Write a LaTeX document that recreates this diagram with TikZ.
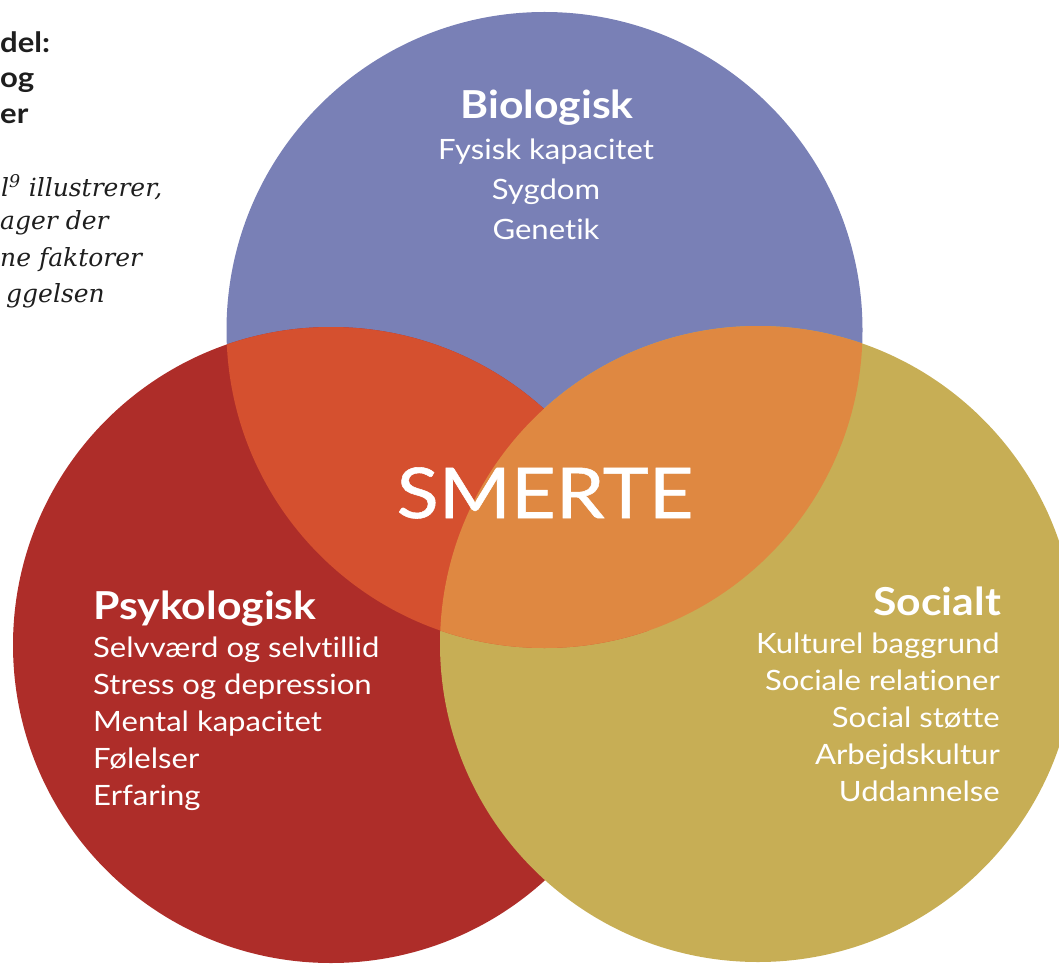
\documentclass[tikz,border=0pt]{standalone}
\usepackage{fontspec}
\setmainfont{Lato}[FakeStretch=1.11, Ligatures={NoCommon}]
\newfontfamily\serifit{DejaVu Serif}[ItalicFont={DejaVu Serif Italic}]
\definecolor{cblue}{HTML}{7980B6}
\definecolor{cred}{HTML}{AE2D29}
\definecolor{cyellow}{HTML}{C7AE55}
\definecolor{credblue}{HTML}{D5502F}
\definecolor{corange}{HTML}{DF8841}
\definecolor{cink}{HTML}{1E1E1E}
\tikzset{
  title/.style={inner sep=0pt, text=white, font=\fontsize{38.5}{44}\selectfont\bfseries},
  item/.style={inner sep=0pt, text=white, font=\fontsize{28}{34}\selectfont},
  center label/.style={inner sep=0pt, text=white, font=\fontsize{70}{80}\selectfont\addfontfeatures{FakeBold=0.8}},
  side bold/.style={inner sep=0pt, text=cink, anchor=base west, font=\fontsize{28}{34}\selectfont\bfseries},
  side italic/.style={inner sep=0pt, text=cink, anchor=base west, font=\fontsize{25}{30}\selectfont\serifit\itshape},
}
\begin{document}
\begin{tikzpicture}[x=1pt,y=-1pt]
\useasboundingbox (0,0) rectangle (1059,965);
\coordinate (B) at (544.5,330);
\coordinate (P) at (331,645);
\coordinate (S) at (758,644);
\def\rad{318pt}
\begin{scope}
  \clip (0,0) rectangle (1059,965);
  \fill[cblue] (B) circle[radius=\rad];
  \fill[cred] (P) circle[radius=\rad];
  \fill[cyellow] (S) circle[radius=\rad];
  \begin{scope}
    \clip (B) circle[radius=\rad];
    \fill[credblue] (P) circle[radius=\rad];
  \end{scope}
  \begin{scope}
    \clip (B) circle[radius=\rad];
    \fill[corange] (S) circle[radius=\rad];
  \end{scope}
  % left text, cut by the page edge
  \node[side bold] (h1) at (0,53) {del:};
  \node[side bold] (h2) at (0,88) {og};
  \node[side bold] (h3) at (0,124) {er};
  \node[side italic] (t1) at (1,197) {l\textsuperscript{9} illustrerer,};
  \node[side italic] (t2) at (0,230) {ager der};
  \node[side italic] (t3) at (0,267) {ne faktorer};
  \node[side italic] (t4) at (6,302) {ggelsen};
\end{scope}
% Biologisk
\node[title, anchor=base] (bioT) at (547,119) {Biologisk};
\foreach \t [count=\i] in {Fysisk kapacitet, Sygdom, Genetik}
  \node[item, anchor=base] (bio\i) at (546,120+40*\i) {\t};
% SMERTE
\node[center label, anchor=base] (smerte) at (545,518) {SMERTE};
% Psykologisk
\node[title, anchor=base west] (psyT) at (93,619) {Psykologisk};
\foreach \t [count=\i] in {Selvværd og selvtillid, Stress og depression, Mental kapacitet, Følelser, Erfaring}
  \node[item, anchor=base west] (psy\i) at (93,620+37*\i) {\t};
% Socialt
\node[title, anchor=base east] (socT) at (1001,615) {Socialt};
\foreach \t [count=\i] in {Kulturel baggrund, Sociale relationer, Social støtte, Arbejdskultur, Uddannelse}
  \node[item, anchor=base east] (soc\i) at (1000,616+37*\i) {\t};
\end{tikzpicture}
\end{document}
